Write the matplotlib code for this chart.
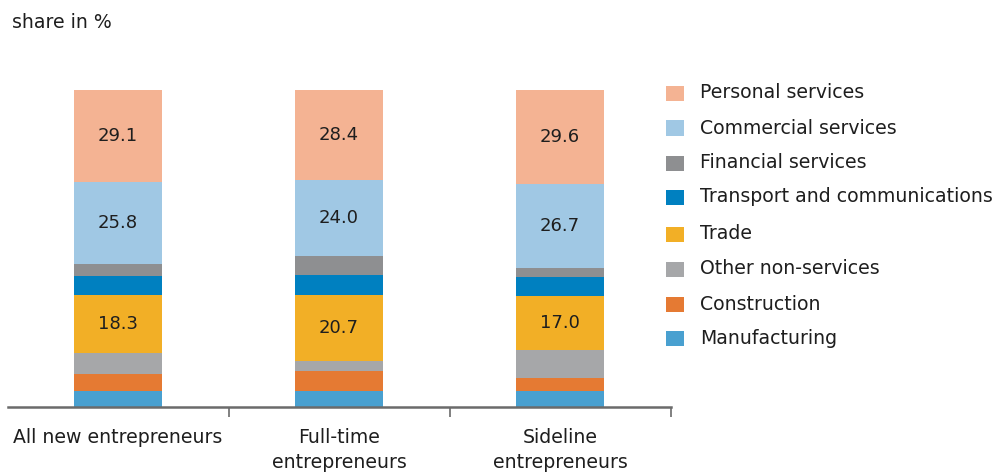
import matplotlib
matplotlib.use("Agg")
import matplotlib.pyplot as plt
from matplotlib.patches import Rectangle
import numpy as np

categories = ["All new entrepreneurs", "Full-time\nentrepreneurs", "Sideline\nentrepreneurs"]
sectors = ["Manufacturing", "Construction", "Other non-services", "Trade",
           "Transport and communications", "Financial services",
           "Commercial services", "Personal services"]
manufacturing = [5.0, 5.1, 4.9]
construction = [5.4, 6.4, 4.4]
other_non_services = [6.5, 3.0, 8.6]
trade = [18.3, 20.7, 17.0]
transport = [6.1, 6.3, 6.0]
financial = [3.8, 6.1, 2.8]
commercial = [25.8, 24.0, 26.7]
personal = [29.1, 28.4, 29.6]
series = [manufacturing, construction, other_non_services, trade,
          transport, financial, commercial, personal]
labelled = {"Trade", "Commercial services", "Personal services"}
colors = ["#49A0D0", "#E57A33", "#A6A7A9", "#F2AF26",
          "#0080C0", "#8E8F91", "#A0C8E4", "#F4B393"]

FONT = "DejaVu Sans"
plt.rcParams['font.family'] = [FONT]
TXT = "#1e1e1e"
FS = 13.6

fig = plt.figure(figsize=(9.96, 4.74), dpi=100)
ax = fig.add_axes([7.5/996, 1-407/474, (670.5-7.5)/996, (407-90)/474])
x = np.arange(len(categories))
bottom = np.zeros(len(categories))
for name, vals, c in zip(sectors, series, colors):
    vals = np.array(vals)
    ax.bar(x, vals, width=0.4, bottom=bottom, color=c, linewidth=0)
    if name in labelled:
        for xi, b, v in zip(x, bottom, vals):
            ax.text(xi, b + v/2, f"{v:.1f}", ha="center", va="center",
                    fontsize=13, color=TXT)
    bottom += vals

ax.set_xlim(-0.5, 2.5)
ax.set_ylim(0, 100)
for s in ["top", "right", "left"]:
    ax.spines[s].set_visible(False)
ax.spines["bottom"].set_color("#6b6b6b")
ax.spines["bottom"].set_linewidth(1.8)
ax.set_yticks([])
ax.set_xticks([0.5, 1.5, 2.5])
ax.set_xticklabels([])
ax.tick_params(axis="x", direction="out", length=7, width=1.2, color="#6b6b6b")
for xi, lab in zip(x, categories):
    ax.text(xi, -6.5, lab, ha="center", va="top", fontsize=FS, color=TXT,
            linespacing=1.42, transform=ax.transData, clip_on=False)

fig.text(12/996, 1-22/474, "share in %", ha="left", va="center", fontsize=FS, color=TXT)

# legend (top to bottom: Personal ... Manufacturing)
leg_y = [93, 128, 163, 197, 234, 269, 304, 338]
for yy, name, c in zip(leg_y, sectors[::-1], colors[::-1]):
    fig.add_artist(Rectangle((666/996, 1-(yy+7.5)/474), 18/996, 15/474,
                             transform=fig.transFigure, color=c, linewidth=0))
    fig.text(700/996, 1-yy/474, name, ha="left", va="center", fontsize=FS, color=TXT)

fig.savefig("out.png", dpi=100)
